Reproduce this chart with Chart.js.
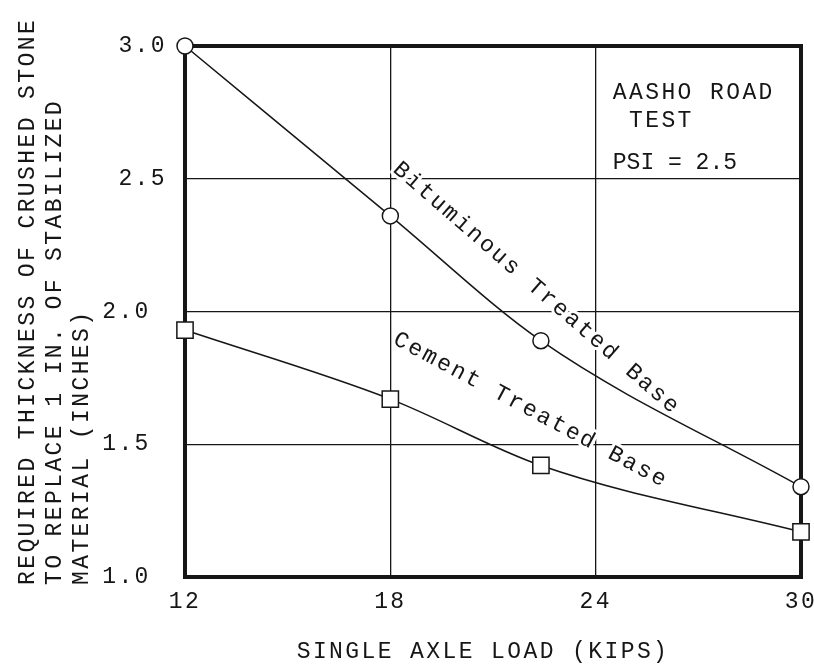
<!DOCTYPE html>
<html>
<head>
<meta charset="utf-8">
<script src="https://cdn.jsdelivr.net/npm/chart.js@4/dist/chart.umd.min.js"></script>
<style>
  body { margin: 0; background: #fff; }
  #wrap { width: 814px; height: 671px; }
</style>
</head>
<body>
<div id="wrap"><canvas id="chart"></canvas></div>
<script>
// values (AASHO road test, PSI = 2.5)
var loads = [12, 18, 22.4, 30];
var bituminous = [3.0, 2.36, 1.89, 1.34];
var cement = [1.93, 1.67, 1.42, 1.17];
var xTicks = [12, 18, 24, 30];
var yTicks = [1.0, 1.5, 2.0, 2.5, 3.0];

var xTitle = "SINGLE AXLE LOAD (KIPS)";
var yTitle = ["REQUIRED THICKNESS OF CRUSHED STONE",
              "TO REPLACE 1 IN. OF STABILIZED",
              "MATERIAL (INCHES)"];
var noteLines = ["AASHO ROAD", " TEST", "PSI = 2.5"];

var ink = "#161616";
var fontFamily = "'Liberation Mono', 'DejaVu Sans Mono', monospace";
var spacing = "2.4px";

function toPoints(values) {
    return loads.map(function (x, i) { return { x: x, y: values[i] }; });
}

function writeText(ctx, text, x, y, angle, align, halo) {
    ctx.save();
    ctx.translate(x, y);
    ctx.rotate(angle);
    ctx.textAlign = align;
    ctx.textBaseline = "alphabetic";
    if (halo) {
        ctx.strokeStyle = "#fff";
        ctx.lineWidth = 6;
        ctx.lineJoin = "round";
        ctx.strokeText(text, 0, 0);
    }
    ctx.fillText(text, 0, 0);
    ctx.restore();
}

var paperPlugin = {
    id: "paper",
    beforeUpdate: function (chart) { chart.ctx.letterSpacing = spacing; },
    beforeDraw: function (chart) { chart.ctx.letterSpacing = spacing; },
    beforeDatasetsDraw: function (chart) {
        var ctx = chart.ctx, a = chart.chartArea;
        ctx.save();
        ctx.strokeStyle = ink;
        ctx.lineWidth = 4;
        ctx.strokeRect(a.left, a.top, a.right - a.left, a.bottom - a.top);
        ctx.restore();
    },
    afterDraw: function (chart) {
        var ctx = chart.ctx;
        var xs = chart.scales.x, ys = chart.scales.y;
        ctx.save();
        ctx.letterSpacing = spacing;
        ctx.fillStyle = ink;
        ctx.font = "23px " + fontFamily;

        // axis titles
        writeText(ctx, xTitle, 483, 658, 0, "center", false);
        var lineX = [34, 61, 88];
        for (var i = 0; i < yTitle.length; i++) {
            writeText(ctx, yTitle[i], lineX[i], 585, -Math.PI / 2, "left", false);
        }

        // curve labels, anchored in data units
        writeText(ctx, "Bituminous Treated Base",
                  xs.getPixelForValue(18.05), ys.getPixelForValue(2.53),
                  41 * Math.PI / 180, "left", true);
        writeText(ctx, "Cement Treated Base",
                  xs.getPixelForValue(18.05), ys.getPixelForValue(1.88),
                  28 * Math.PI / 180, "left", true);

        // note box, top right
        var noteY = [2.80, 2.695, 2.535];
        for (var j = 0; j < noteLines.length; j++) {
            ctx.letterSpacing = j === 2 ? "0px" : spacing;
            writeText(ctx, noteLines[j], xs.getPixelForValue(24.5),
                      ys.getPixelForValue(noteY[j]), 0, "left", true);
        }
        ctx.restore();
    }
};

function makeChart() {
    var ctx = document.getElementById("chart");
    var chart = new Chart(ctx, {
        type: "line",
        data: {
            datasets: [{
                label: "Bituminous Treated Base",
                data: toPoints(bituminous),
                borderColor: ink,
                borderWidth: 1.5,
                pointStyle: "circle",
                pointRadius: 8,
                pointBackgroundColor: "#fff",
                pointBorderColor: ink,
                pointBorderWidth: 1.5,
                cubicInterpolationMode: "monotone",
                clip: false
            }, {
                label: "Cement Treated Base",
                data: toPoints(cement),
                borderColor: ink,
                borderWidth: 1.5,
                pointStyle: "rect",
                pointRadius: 11.5,
                pointBackgroundColor: "#fff",
                pointBorderColor: ink,
                pointBorderWidth: 1.5,
                cubicInterpolationMode: "monotone",
                clip: false
            }]
        },
        options: {
            responsive: true,
            maintainAspectRatio: false,
            animation: false,
            events: [],
            layout: { padding: { top: 46, right: 12, left: 0, bottom: 0 } },
            plugins: {
                legend: { display: false },
                tooltip: { enabled: false }
            },
            scales: {
                x: {
                    type: "linear",
                    min: 12,
                    max: 30,
                    afterBuildTicks: function (scale) {
                        scale.ticks = xTicks.map(function (v) { return { value: v }; });
                    },
                    afterFit: function (scale) {
                        scale.height = 94;
                        scale.paddingLeft = 0;
                        scale.paddingRight = 0;
                    },
                    grid: { color: ink, lineWidth: 1.3, drawTicks: false },
                    border: { display: false },
                    ticks: {
                        color: ink,
                        padding: 11,
                        maxRotation: 0,
                        font: { family: fontFamily, size: 23 },
                        callback: function (v) { return String(v); }
                    }
                },
                y: {
                    type: "linear",
                    min: 1.0,
                    max: 3.0,
                    afterBuildTicks: function (scale) {
                        scale.ticks = yTicks.map(function (v) { return { value: v }; });
                    },
                    afterFit: function (scale) {
                        scale.width = 185;
                        scale.paddingTop = 0;
                        scale.paddingBottom = 0;
                    },
                    grid: { color: ink, lineWidth: 1.3, drawTicks: false },
                    border: { display: false },
                    ticks: {
                        color: ink,
                        padding: 18,
                        font: { family: fontFamily, size: 23 },
                        // the lower labels sit further left in the original
                        callback: function (v) {
                            return v >= 2.5 ? v.toFixed(1) : v.toFixed(1) + " ";
                        }
                    }
                }
            }
        },
        plugins: [paperPlugin]
    });
}

makeChart();
</script>
</body>
</html>
